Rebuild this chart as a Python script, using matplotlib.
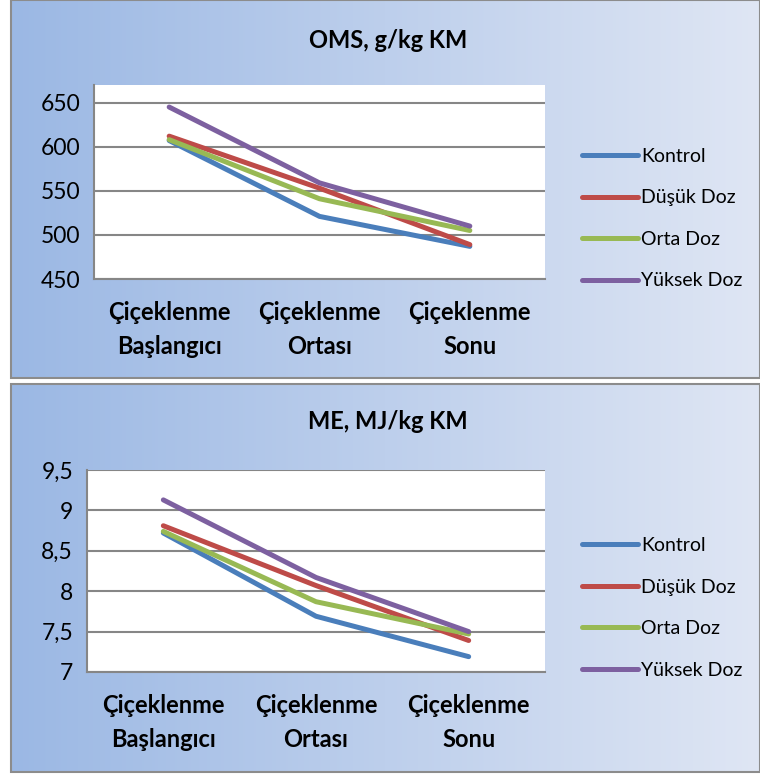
import numpy as np
import matplotlib
matplotlib.use("Agg")
import matplotlib.pyplot as plt
from matplotlib.patches import Rectangle

plt.rcParams['font.family'] = ['Lato', 'DejaVu Sans']

# data
stages = ["Çiçeklenme\nBaşlangıcı", "Çiçeklenme\nOrtası", "Çiçeklenme\nSonu"]
groups = ["Kontrol", "Düşük Doz", "Orta Doz", "Yüksek Doz"]
colors = ["#4A7EBB", "#BE4B48", "#98B954", "#7D60A0"]

oms_kontrol = [607, 521, 487]
oms_dusuk = [612, 553, 489]
oms_orta = [608, 541, 505]
oms_yuksek = [645, 559, 510]

me_kontrol = [8.72, 7.69, 7.19]
me_dusuk = [8.81, 8.07, 7.39]
me_orta = [8.74, 7.87, 7.47]
me_yuksek = [9.13, 8.17, 7.50]

W, H = 760, 776
fig = plt.figure(figsize=(W / 100, H / 100), dpi=100)

# background with the two gradient panels (pixel coordinates)
bg = fig.add_axes([0, 0, 1, 1])
bg.axis("off")
grad = np.linspace(0, 1, 256).reshape(1, -1)
cmap = matplotlib.colors.LinearSegmentedColormap.from_list("g", ["#9BB8E4", "#DFE6F4"])
for top, bot in [(0, 378), (384, 772)]:
    bg.imshow(grad, cmap=cmap, aspect="auto", extent=(11, W, bot, top), zorder=0)
    bg.add_patch(Rectangle((11, top), W - 11, bot - top, fill=False,
                           edgecolor="#8C8C8C", lw=1.5, zorder=1))
bg.set_xlim(0, W)
bg.set_ylim(H, 0)


def panel(rect, series, title, title_y, ylim, yticks, yticklabels, leg_y):
    ax = fig.add_axes(rect)
    ax.set_facecolor("white")
    x = np.arange(len(stages))
    for vals, name, c in zip(series, groups, colors):
        ax.plot(x, vals, color=c, lw=3.6, label=name, solid_capstyle="round",
                solid_joinstyle="round", zorder=3)
    ax.set_xlim(-0.5, 2.5)
    ax.set_ylim(*ylim)
    ax.set_yticks(yticks)
    ax.set_yticklabels(yticklabels, fontsize=16.5)
    ax.set_xticks(x)
    ax.set_xticklabels(stages, fontsize=17, fontweight="bold", linespacing=1.55)
    ax.tick_params(length=0, pad=10)
    ax.tick_params(axis="x", pad=16)
    ax.grid(axis="y", color="#868686", lw=1.5)
    ax.set_axisbelow(True)
    for s in ["top", "right"]:
        ax.spines[s].set_visible(False)
    for s in ["left", "bottom"]:
        ax.spines[s].set_color("#868686")
        ax.spines[s].set_linewidth(1.5)
    fig.text(388 / W, 1 - title_y / H, title, fontsize=17, fontweight="bold",
             ha="center", va="center")
    ax.legend(loc="upper left", bbox_to_anchor=(582 / W, 1 - leg_y / H),
              bbox_transform=fig.transFigure, frameon=False, fontsize=14,
              handlelength=2.9, handletextpad=0.15, labelspacing=1.26,
              borderaxespad=0, borderpad=0)
    return ax


panel([94 / W, 1 - 279 / H, 451 / W, 194 / H],
      [oms_kontrol, oms_dusuk, oms_orta, oms_yuksek],
      "OMS, g/kg KM", 40, (450, 670), [450, 500, 550, 600, 650],
      ["450", "500", "550", "600", "650"], 148)

panel([87 / W, 1 - 672 / H, 458 / W, 202 / H],
      [me_kontrol, me_dusuk, me_orta, me_yuksek],
      "ME, MJ/kg KM", 422, (7, 9.5), [7, 7.5, 8, 8.5, 9, 9.5],
      ["7", "7,5", "8", "8,5", "9", "9,5"], 537)

fig.savefig("out.png", dpi=100)
